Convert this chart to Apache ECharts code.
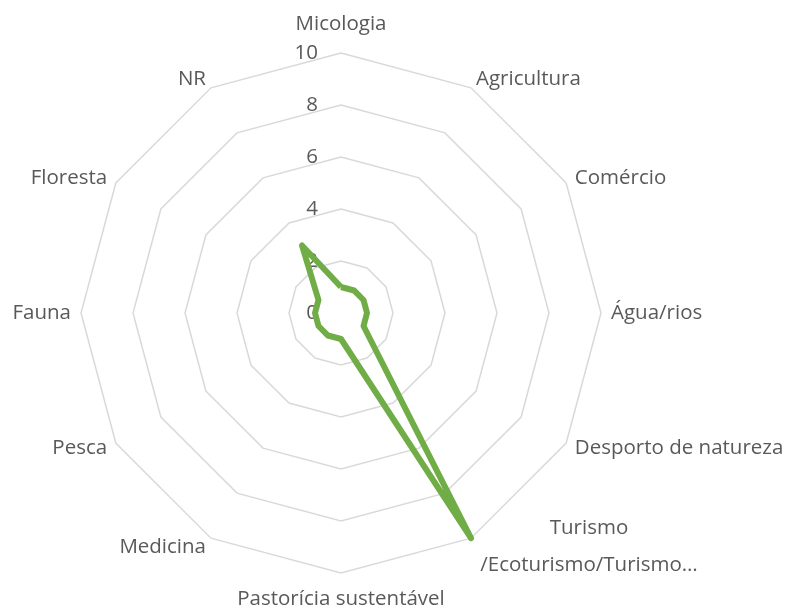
<!DOCTYPE html>
<html>
<head>
<meta charset="utf-8">
<script src="https://cdn.jsdelivr.net/npm/echarts@6/dist/echarts.min.js"></script>
<style>html,body{margin:0;padding:0;background:#fff}#c{width:788px;height:609px}</style>
</head>
<body>
<div id="c"></div>
<script>
// categories listed clockwise from the top
const categories = ['Micologia','Agricultura','Comércio','Água/rios','Desporto de natureza','Turismo /Ecoturismo/Turismo…','Pastorícia sustentável','Medicina','Pesca','Fauna','Floresta','NR'];
const values = [1, 1, 1, 1, 1, 10, 1, 1, 1, 1, 1, 3];
const tickMax = 10;
const tickStep = 2;

// ECharts radar runs counter-clockwise: reorder so the picture runs clockwise
const order = [0].concat(categories.map((_, i) => i).slice(1).reverse());
const indCats = order.map(i => categories[i]);
const indVals = order.map(i => values[i]);

const chart = echarts.init(document.getElementById('c'));
const font = '"Open Sans", sans-serif';
const fs = 20.5;
chart.setOption({
  animation: false,
  radar: {
    center: [341, 313],
    radius: 260,
    startAngle: 90,
    shape: 'polygon',
    splitNumber: 5,
    indicator: indCats.map(n => ({ name: n, min: 0, max: tickMax })),
    axisName: {
      color: '#595959', fontSize: fs, fontFamily: font,
      formatter: function (name) {
        if (name.indexOf('Turismo /') === 0) {
          return '{t|Turismo}\n{t|/Ecoturismo/Turismo…}';
        }
        if (name === 'Micologia') return '{top|' + name + '}';
        if (name === 'Pastorícia sustentável') return '{bot|' + name + '}';
        return name;
      },
      rich: {
        t: { color: '#595959', fontSize: fs, fontFamily: font, width: 226, align: 'center', lineHeight: 37 },
        top: { color: '#595959', fontSize: fs, fontFamily: font, padding: [0, 0, 8, 0] },
        bot: { color: '#595959', fontSize: fs, fontFamily: font, padding: [6, 0, 0, 0] }
      }
    },
    nameGap: 10,
    axisLine: { show: false },
    axisTick: { show: false },
    axisLabel: { show: false },
    splitArea: { show: false },
    splitLine: { lineStyle: { color: '#d9d9d9', width: 1.5 } }
  },
  grid: { left: 341, top: 53, height: 260, width: 10 },
  xAxis: { type: 'value', show: false },
  yAxis: {
    type: 'value', min: 0, max: tickMax, interval: tickStep,
    axisLine: { show: false }, axisTick: { show: false }, splitLine: { show: false },
    axisLabel: { color: '#595959', fontSize: fs, fontFamily: font, margin: 23 }
  },
  series: [{
    type: 'radar',
    symbol: 'none',
    lineStyle: { color: '#70ad47', width: 6, join: 'round' },
    data: [{ value: indVals }]
  }]
});
</script>
</body>
</html>
